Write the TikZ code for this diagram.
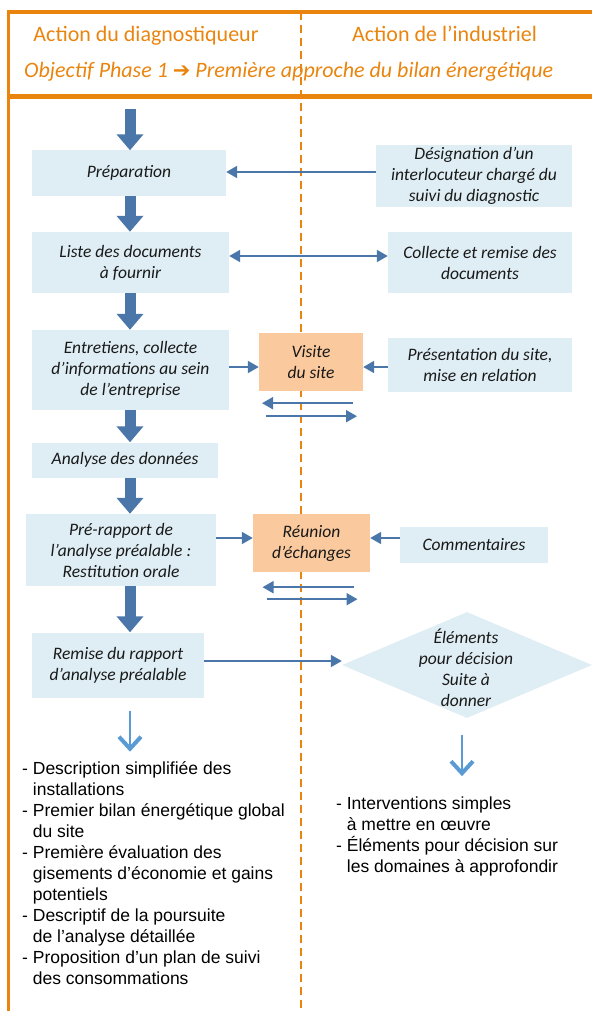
\documentclass[tikz,border=0pt]{standalone}
\usepackage{fontspec}
\setmainfont{Carlito}
\newfontfamily\arialfont{Liberation Sans}
\newfontfamily\symbfont{DejaVu Sans}
\usetikzlibrary{arrows.meta,shapes.geometric}
\definecolor{orangecadre}{HTML}{E9850F}
\definecolor{bleuboite}{HTML}{DFEEF4}
\definecolor{orangeboite}{HTML}{FAC99D}
\definecolor{bleufonce}{HTML}{4A76A9}
\definecolor{bleuleger}{HTML}{5B9BD5}
\newcommand\suite{\hphantom{- }}
\tikzset{
  cadre/.style={draw=orangecadre,line width=3.5pt},
  pointille/.style={draw=orangecadre,line width=2pt,dash pattern=on 8pt off 5pt},
  titre/.style={text=orangecadre,font=\fontsize{22}{26}\selectfont,inner sep=0pt},
  boite/.style={fill=bleuboite,align=center,inner sep=0pt,text=black!90,
    font=\itshape\fontsize{17.5}{21}\selectfont},
  boiteor/.style={boite,fill=orangeboite},
  liste/.style={align=left,inner sep=0pt,anchor=north west,
    font=\arialfont\fontsize{17.5}{21}\selectfont},
  grosse/.style={draw=bleufonce,line width=11pt,-{Triangle[width=26pt,length=16pt]}},
  fleche/.style={draw=bleufonce,line width=2pt},
  claire/.style={draw=bleuleger,line width=2.5pt,-{Straight Barb[width=22pt,length=12pt,line width=4pt]}}
}
\begin{document}
\begin{tikzpicture}[x=1pt,y=-1pt,>={Triangle[width=12pt,length=11pt]}]
  \useasboundingbox (0,0) rectangle (592,1011);
  %% cadre
  \draw[cadre] (592,12) -- (8.5,12) -- (8.5,1011);
  \draw[cadre,line width=4.5pt] (8.5,96.5) -- (592,96.5);
  \draw[pointille] (301,12) -- (301,1011);
  %% titres
  \node[titre,anchor=base] (tdiag) at (146,42) {Action du diagnostiqueur};
  \node[titre,anchor=base] (tindus) at (444.5,42) {Action de l’industriel};
  \node[titre,anchor=base west,font=\itshape\fontsize{22}{26}\selectfont] (tobj) at (24,78)
    {Objectif Phase 1 {\symbfont\upshape\fontsize{21}{22}\selectfont ➔} Première approche du bilan énergétique};
  %% colonne diagnostiqueur
  \coordinate (depart) at (130,109);
  \node[boite,minimum width=194pt,minimum height=45pt] (prep) at (129,173) {Préparation};
  \node[boite,minimum width=197pt,minimum height=61pt] (liste) at (130.5,262.5) {Liste des documents\\à  fournir};
  \node[boite,minimum width=197pt,minimum height=80pt] (entre) at (130.5,370)
    {Entretiens, collecte\\d’informations au sein\\de l’entreprise};
  \node[boite,minimum width=186pt,minimum height=35pt] (analyse) at (125,460) {Analyse des données};
  \node[boite,minimum width=190pt,minimum height=72pt] (prerap) at (121,550)
    {Pré-rapport de\\l’analyse préalable :\\Restitution orale};
  \node[boite,minimum width=172pt,minimum height=65pt] (remise) at (118,665)
    {Remise du rapport\\d’analyse préalable};
  %% milieu
  \node[boiteor,minimum width=104pt,minimum height=58pt] (visite) at (311,362) {Visite\\du site};
  \node[boiteor,minimum width=117pt,minimum height=58pt] (reunion) at (311.5,543) {Réunion\\d’échanges};
  %% colonne industriel
  \node[boite,minimum width=196pt,minimum height=62pt] (desig) at (474,176)
    {Désignation d’un\\interlocuteur chargé du\\suivi du diagnostic};
  \node[boite,minimum width=184pt,minimum height=61pt] (collecte) at (480,262.5)
    {Collecte et remise des\\documents};
  \node[boite,minimum width=184pt,minimum height=54pt] (present) at (480,365)
    {Présentation du site,\\mise en relation};
  \node[boite,minimum width=148pt,minimum height=36pt] (comment) at (474,545) {Commentaires};
  \node[diamond,fill=bleuboite,inner sep=0pt,minimum width=250pt,minimum height=106pt] (dec) at (467,665) {};
  \node[boite,fill=none] (dectxt) at (466,668) {Éléments\\pour décision\\Suite à\\donner};
  %% grosses fleches
  \draw[grosse] (depart) -- (prep.north -| depart);
  \draw[grosse] (prep.south -| depart) -- (liste.north -| depart);
  \draw[grosse] (liste.south -| depart) -- (entre.north -| depart);
  \draw[grosse] (entre.south -| depart) -- (analyse.north -| depart);
  \draw[grosse] (analyse.south -| depart) -- (prerap.north -| depart);
  \draw[grosse] (prerap.south -| depart) -- (remise.north -| depart);
  %% fleches fines
  \draw[fleche,->] (desig.west |- 0,172) -- (prep.east |- 0,172);
  \draw[fleche,<->] (liste.east |- 0,256) -- (collecte.west |- 0,256);
  \draw[fleche,->] (entre.east |- 0,367) -- (visite.west |- 0,367);
  \draw[fleche,->] (present.west |- 0,367) -- (visite.east |- 0,367);
  \draw[fleche,->] (visite.south) ++(42,12) -- ++(-91,0);
  \draw[fleche,->] (visite.south) ++(-45,25) -- ++(91,0);
  \draw[fleche,->] (prerap.east |- 0,538) -- (reunion.west |- 0,538);
  \draw[fleche,->] (comment.west |- 0,538) -- (reunion.east |- 0,538);
  \draw[fleche,->] (reunion.south) ++(42,15) -- ++(-91,0);
  \draw[fleche,->] (reunion.south) ++(-45,27) -- ++(91,0);
  \draw[fleche,->] (remise.east |- 0,661) -- (dec.west |- 0,661);
  %% resultats
  \node[liste] (resg) at (22,761)
    {- Description simplifiée des\\\suite installations\\- Premier bilan énergétique global\\\suite du site\\- Première évaluation des\\\suite gisements d’économie et gains\\\suite potentiels\\- Descriptif de la poursuite\\\suite de l’analyse détaillée\\- Proposition d’un plan de suivi\\\suite des consommations};
  \node[liste] (resd) at (336,797)
    {- Interventions simples\\\suite à mettre en œuvre\\- Éléments pour décision sur\\\suite les domaines à approfondir};
  \draw[claire] (remise.south -| depart) ++(0,13) -- ++(0,41);
  \draw[claire] (dec.south) ++(-5,17) -- ++(0,41);
\end{tikzpicture}
\end{document}
